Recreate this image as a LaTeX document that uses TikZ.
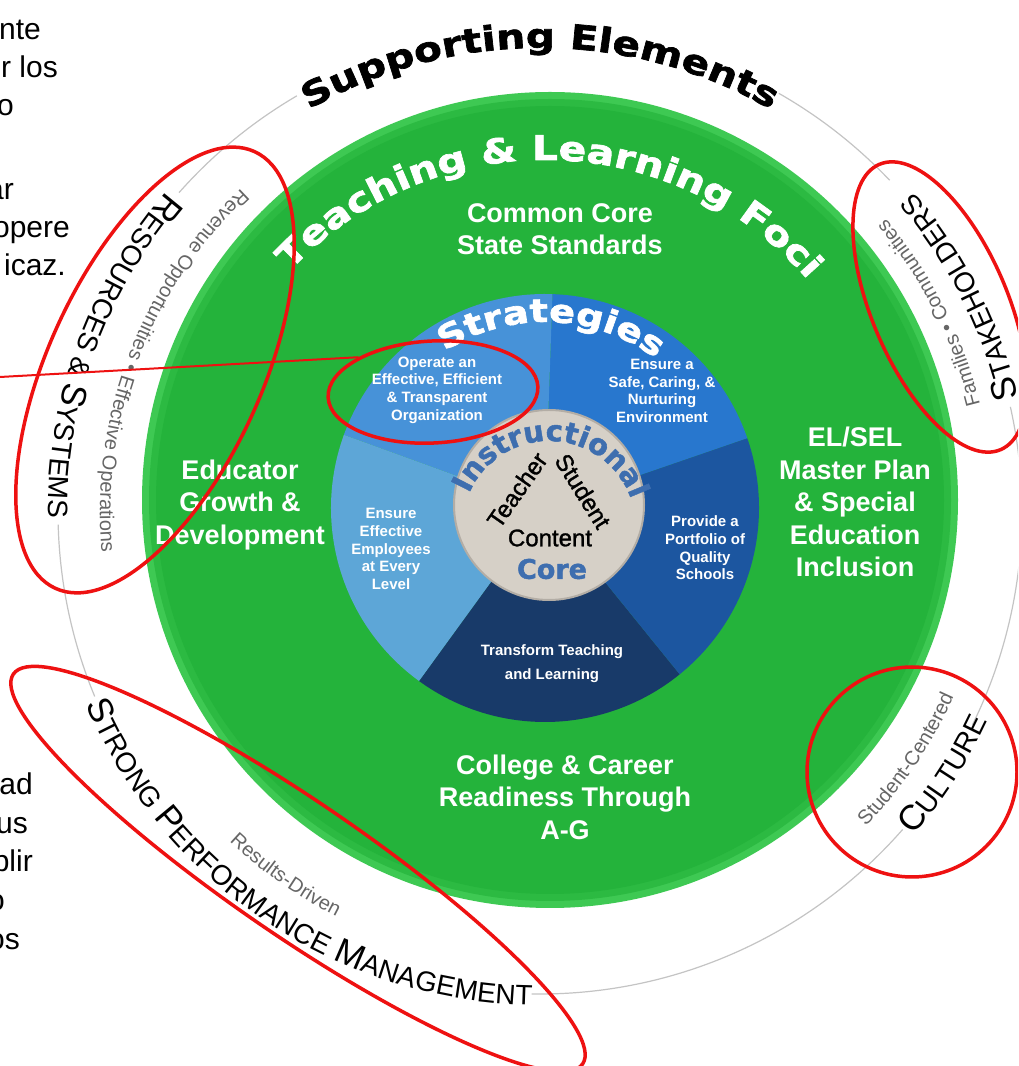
\documentclass[tikz,border=0pt]{standalone}
\usepackage{fontspec}
\setmainfont{Liberation Sans}
\newfontfamily\headfont{DejaVu Sans}[FakeStretch=1.2,FakeBold=2]
\newfontfamily\roundfont{DejaVu Sans}[FakeBold=1.5]
\newfontfamily\medfont{Liberation Sans}[FakeBold=1.2]
\usetikzlibrary{decorations.text,shapes.geometric}

\definecolor{greenmain}{HTML}{24B33B}
\definecolor{greenrim}{HTML}{3EC953}
\definecolor{secOperate}{HTML}{4792D8}
\definecolor{secSafe}{HTML}{2877CE}
\definecolor{secPortfolio}{HTML}{1C56A0}
\definecolor{secTransform}{HTML}{183A69}
\definecolor{secEmploy}{HTML}{5DA6D7}
\definecolor{coreface}{HTML}{D6D0C7}
\definecolor{coreedge}{HTML}{B3ADA5}
\definecolor{coreblue}{HTML}{3E6EAF}
\definecolor{ringgray}{HTML}{C4C4C4}
\definecolor{subgray}{HTML}{666666}
\definecolor{markred}{HTML}{EE1111}

\newcommand\capbig{\color{black}\fontsize{35}{35}\selectfont}
\newcommand\capsmall{\color{black}\fontsize{28}{28}\selectfont}
\newcommand\subsmall{\color{subgray}\fontsize{20}{20}\selectfont}
\newcommand\headbig{\headfont\bfseries\fontsize{34}{34}\selectfont}

\begin{document}
\begin{tikzpicture}[x=1pt,y=1pt,
  ringtext/.style={decorate,decoration={text along path,text align=center,text={#1}}},
  ringline/.style={draw=ringgray,line width=1.2pt},
  foci/.style={text=white,font=\bfseries\fontsize{27}{32.5}\selectfont,align=center},
  strat/.style={text=white,font=\bfseries\fontsize{15}{17.7}\selectfont,align=center},
  corelbl/.style={font=\medfont\fontsize{24}{24}\selectfont,inner sep=0pt},
  redmark/.style={draw=markred,line width=3.5pt,ellipse,inner sep=0pt},
  fragment/.style={anchor=base east,inner sep=0pt,font=\fontsize{30}{30}\selectfont}]

  \useasboundingbox (0,0) rectangle (1018,1066);
  \fill[white] (0,0) rectangle (1018,1066);
  \clip (0,0) rectangle (1018,1066);

  \coordinate (O) at (540,554);
  \coordinate (G) at (550,566);
  \coordinate (B) at (545,558);
  \coordinate (K) at (549,561);
  \coordinate (Kt) at (549,538);

  % outer ring of supporting elements
  \foreach \a/\b in {43.5/60.3,120.3/138.5,181.5/202.5,269/318.8,333.8/372.6}
    \draw[ringline] ([shift={(\a:482)}]O) arc[start angle=\a,end angle=\b,radius=482];

  \path[ringtext={|\headbig|Supporting Elements}]
    ([shift={(150:464)}]O) arc[start angle=150,end angle=30,radius=464];
  \path[ringtext={|\capbig|R|\capsmall|ESOURCES {\&} |\capbig|S|\capsmall|YSTEMS}]
    ([shift={(120:492)}]O) arc[start angle=120,end angle=200,radius=492];
  \path[ringtext={|\subsmall|Revenue Opportunities • Effective Operations}]
    ([shift={(119:440)}]O) arc[start angle=119,end angle=199,radius=440];
  \path[ringtext={|\capbig|S|\capsmall|TAKEHOLDERS}]
    ([shift={(-13:492)}]O) arc[start angle=-13,end angle=67,radius=492];
  \path[ringtext={|\subsmall|Families • Communities}]
    ([shift={(-13:453)}]O) arc[start angle=-13,end angle=67,radius=453];
  \path[ringtext={|\capbig|C|\capsmall|ULTURE}]
    ([shift={(-73:494)}]O) arc[start angle=-73,end angle=7,radius=494];
  \path[ringtext={|\subsmall|Student-Centered}]
    ([shift={(-74:453)}]O) arc[start angle=-74,end angle=6,radius=453];
  \path[ringtext={|\capbig|S|\capsmall|TRONG |\capbig|P|\capsmall|ERFORMANCE |\capbig|M|\capsmall|ANAGEMENT}]
    ([shift={(196:493)}]O) arc[start angle=196,end angle=276,radius=493];
  \path[ringtext={|\subsmall|Results-Driven}]
    ([shift={(195:453)}]O) arc[start angle=195,end angle=275,radius=453];

  % teaching and learning foci
  \fill[greenrim] (G) circle[radius=408];
  \fill[greenmain!70!greenrim] (G) circle[radius=401];
  \fill[greenmain] (G) circle[radius=394];
  \path[ringtext={|\headbig\color{white}|Teaching {\&} Learning Foci}]
    ([shift={(149:348)}]B) arc[start angle=149,end angle=29,radius=348];

  \node[foci] (ccss) at (560,837) {Common Core\\State Standards};
  \node[foci] (growth) at (240,561) {Educator\\Growth \&\\Development};
  \node[foci] (elsel) at (855,564) {EL/SEL\\Master Plan\\\& Special\\Education\\Inclusion};
  \node[foci] (career) at (565,269) {College \& Career\\Readiness Through\\A-G};

  % strategies
  \foreach \a/\b/\c in {19/88/secSafe,88/160/secOperate,160/234/secEmploy,234/309/secTransform,309/379/secPortfolio}
    \fill[\c] (B) -- ([shift={(\a:214)}]B) arc[start angle=\a,end angle=\b,radius=214] -- cycle;
  \path[ringtext={|\headfont\bfseries\fontsize{32}{32}\selectfont\color{white}|Strategies}]
    ([shift={(148:186)}]B) arc[start angle=148,end angle=28,radius=186];

  \node[strat] (operate) at (437,676) {Operate an\\Effective, Efficient\\\& Transparent\\Organization};
  \node[strat] (safe) at (662,675) {Ensure a\\Safe, Caring, \&\\Nurturing\\Environment};
  \node[strat] (portfolio) at (705,518) {Provide a\\Portfolio of\\Quality\\Schools};
  \node[strat,font=\bfseries\fontsize{15}{24}\selectfont] (transform) at (552,402) {Transform Teaching\\and Learning};
  \node[strat] (employ) at (391,517) {Ensure\\Effective\\Employees\\at Every\\Level};

  % instructional core
  \filldraw[fill=coreface,draw=coreedge,line width=2pt] (K) circle[radius=95];
  \path[ringtext={|\roundfont\bfseries\fontsize{29}{29}\selectfont\color{coreblue}|Instructional}]
    ([shift={(178:87)}]Kt) arc[start angle=178,end angle=-2,radius=87];
  \node[corelbl] (content) at (550,528) {Content};
  \node[corelbl,rotate=55] (teacher) at (517,576) {Teacher};
  \node[corelbl,rotate=-58] (student) at (583,575) {Student};
  \node[font=\roundfont\bfseries\fontsize{27}{27}\selectfont,text=coreblue,inner sep=0pt] (corelabel) at (552,497) {Core};

  % red marks
  \node[redmark,minimum width=480pt,minimum height=214pt,rotate=65.5] (resRing) at (155,696) {};
  \node[redmark,minimum width=310pt,minimum height=136pt,rotate=113] (stakeRing) at (940,759) {};
  \node[redmark,minimum width=210pt,minimum height=210pt] (cultRing) at (912,294) {};
  \node[redmark,minimum width=690pt,minimum height=134pt,rotate=-34.4] (perfRing) at (298,197) {};
  \node[redmark,minimum width=210pt,minimum height=102pt,rotate=3] (opRing) at (433,674) {};
  \coordinate (redStart) at (0,689);
  \draw[draw=markred,line width=2pt] (redStart) -- (opRing.152);

  % cut-off text at the left
  \node[fragment] (fragA) at (41,1026) {nte};
  \node[fragment] (fragB) at (58,988) {r los};
  \node[fragment] (fragC) at (14,950) {o};
  \node[fragment] (fragD) at (14,866) {ar};
  \node[fragment] (fragE) at (70,828) {opere};
  \node[fragment] (fragF) at (66,790) {icaz.};
  \node[fragment] (fragG) at (33,271) {ad};
  \node[fragment] (fragH) at (28,232) {us};
  \node[fragment] (fragI) at (33,194) {plir};
  \node[fragment] (fragJ) at (5,155) {o};
  \node[fragment] (fragK) at (20,116) {os};
\end{tikzpicture}
\end{document}
